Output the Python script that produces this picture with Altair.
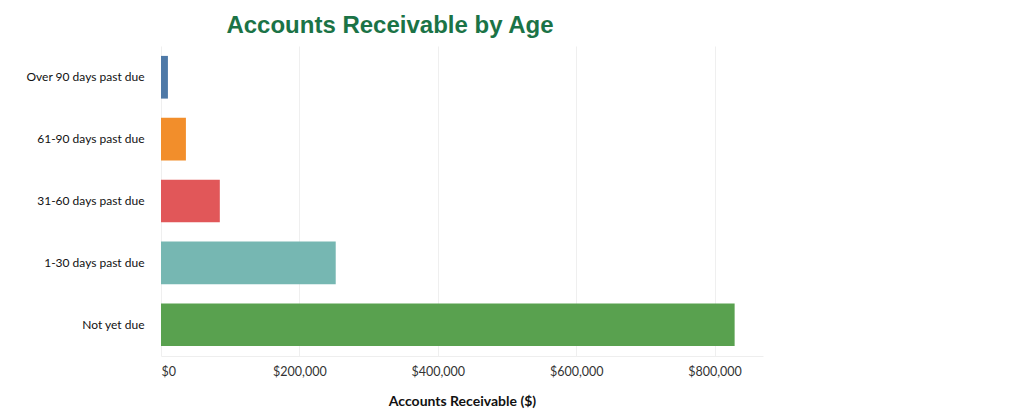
import altair as alt
import pandas as pd

categories = ["Over 90 days past due", "61-90 days past due", "31-60 days past due",
              "1-30 days past due", "Not yet due"]
values = [10000, 36000, 85000, 252500, 829000]
colors = ["#4E79A7", "#F28E2B", "#E15759", "#76B7B2", "#59A14F"]

df = pd.DataFrame({"age": categories, "amount": values})

chart = alt.Chart(df).mark_bar().encode(
    y=alt.Y("age:N", sort=categories, title=None,
            scale=alt.Scale(paddingInner=0.31, paddingOuter=0.16),
            axis=alt.Axis(labelFont="Lato", labelFontSize=12, labelColor="#111111",
                          labelPadding=17, ticks=False, domain=False, grid=False)),
    x=alt.X("amount:Q", title="Accounts Receivable ($)",
            scale=alt.Scale(domain=[0, 870000], nice=False),
            axis=alt.Axis(values=[0, 200000, 400000, 600000, 800000], format="$,.0f",
                          labelFont="Lato", labelFontSize=12.5, labelColor="#333333",
                          labelPadding=9, labelFlush=True, ticks=False,
                          domainColor="#eeeeee", gridColor="#efefef",
                          titleFont="Lato", titleFontSize=14, titleFontWeight="bold",
                          titleColor="#111111", titlePadding=17)),
    color=alt.Color("age:N", scale=alt.Scale(domain=categories, range=colors), legend=None),
).properties(
    width=602, height=310,
    title=alt.TitleParams("Accounts Receivable by Age", font="Liberation Sans", fontSize=24,
                          fontWeight="bold", color="#1B7346", anchor="middle", dx=-72, offset=8),
    autosize="none",
    padding={"left": 161, "top": 46, "right": 250, "bottom": 60},
).configure_view(stroke=None)

chart.save("out.html", embed_options={"renderer": "svg", "actions": False})
